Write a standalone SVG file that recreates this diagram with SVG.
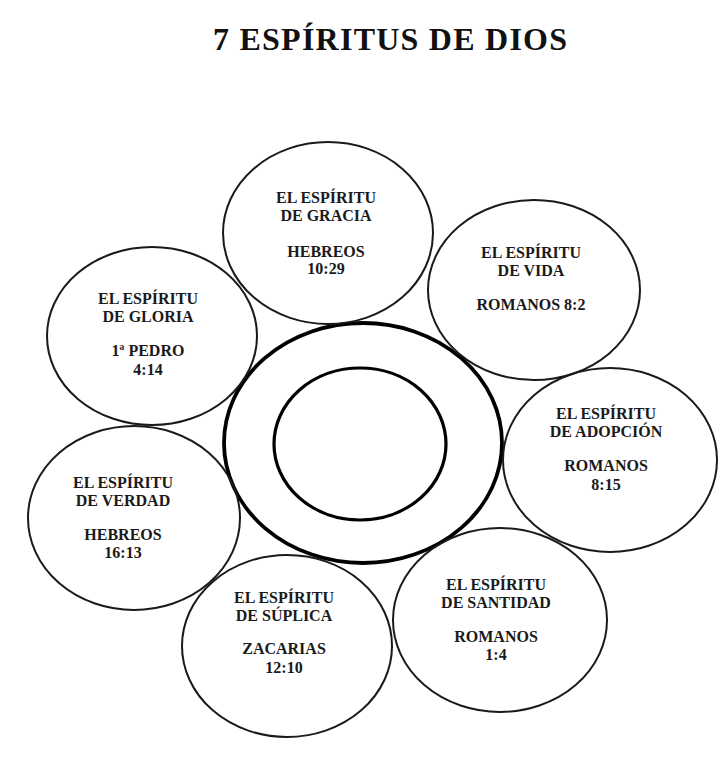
<svg xmlns="http://www.w3.org/2000/svg" width="724" height="768" viewBox="0 0 724 768">
<style>
.bg{fill:#fff}
.petal{fill:none;stroke:#1a1a1a;stroke-width:2}
.ring{fill:none;stroke:#000;stroke-width:3.8}
.t{font-family:"Liberation Serif","Times New Roman",serif;font-weight:bold;font-size:16px;fill:#1a1a1a;text-anchor:middle}
.title{font-family:"Liberation Serif","Times New Roman",serif;font-weight:bold;font-size:32px;fill:#111;text-anchor:middle}
</style>
<rect class="bg" width="724" height="768"/>
<text class="title" x="390" y="50" textLength="354" lengthAdjust="spacing">7 ESPÍRITUS DE DIOS</text>
<g id="connectors"></g>
<g id="center">
<ellipse class="ring" cx="363" cy="443" rx="139" ry="120"/>
<ellipse class="ring" cx="360" cy="444" rx="86" ry="76" style="stroke-width:3.2"/>
</g>
<g id="gracia">
<ellipse class="petal" cx="328" cy="233" rx="105" ry="91"/>
<text class="t" x="326" y="203">EL ESPÍRITU</text>
<text class="t" x="326" y="221">DE GRACIA</text>
<text class="t" x="326" y="257">HEBREOS</text>
<text class="t" x="326" y="274">10:29</text>
</g>
<g id="vida">
<ellipse class="petal" cx="534" cy="290" rx="106" ry="90"/>
<text class="t" x="531" y="258">EL ESPÍRITU</text>
<text class="t" x="531" y="276">DE VIDA</text>
<text class="t" x="531" y="310">ROMANOS 8:2</text>
</g>
<g id="gloria">
<ellipse class="petal" cx="152" cy="336" rx="105" ry="89"/>
<text class="t" x="148" y="304">EL ESPÍRITU</text>
<text class="t" x="148" y="322">DE GLORIA</text>
<text class="t" x="148" y="356">1ª PEDRO</text>
<text class="t" x="148" y="375">4:14</text>
</g>
<g id="adopcion">
<ellipse class="petal" cx="610" cy="460" rx="107" ry="92"/>
<text class="t" x="606" y="419">EL ESPÍRITU</text>
<text class="t" x="606" y="437">DE ADOPCIÓN</text>
<text class="t" x="606" y="471">ROMANOS</text>
<text class="t" x="606" y="490">8:15</text>
</g>
<g id="verdad">
<ellipse class="petal" cx="134" cy="518" rx="106" ry="92"/>
<text class="t" x="123" y="488">EL ESPÍRITU</text>
<text class="t" x="123" y="506">DE VERDAD</text>
<text class="t" x="123" y="540">HEBREOS</text>
<text class="t" x="123" y="558">16:13</text>
</g>
<g id="suplica">
<ellipse class="petal" cx="287" cy="646" rx="105" ry="91"/>
<text class="t" x="284" y="603">EL ESPÍRITU</text>
<text class="t" x="284" y="621">DE SÚPLICA</text>
<text class="t" x="284" y="654">ZACARIAS</text>
<text class="t" x="284" y="673">12:10</text>
</g>
<g id="santidad">
<ellipse class="petal" cx="500" cy="620" rx="107" ry="92"/>
<text class="t" x="496" y="590">EL ESPÍRITU</text>
<text class="t" x="496" y="608">DE SANTIDAD</text>
<text class="t" x="496" y="642">ROMANOS</text>
<text class="t" x="496" y="660">1:4</text>
</g>
</svg>
